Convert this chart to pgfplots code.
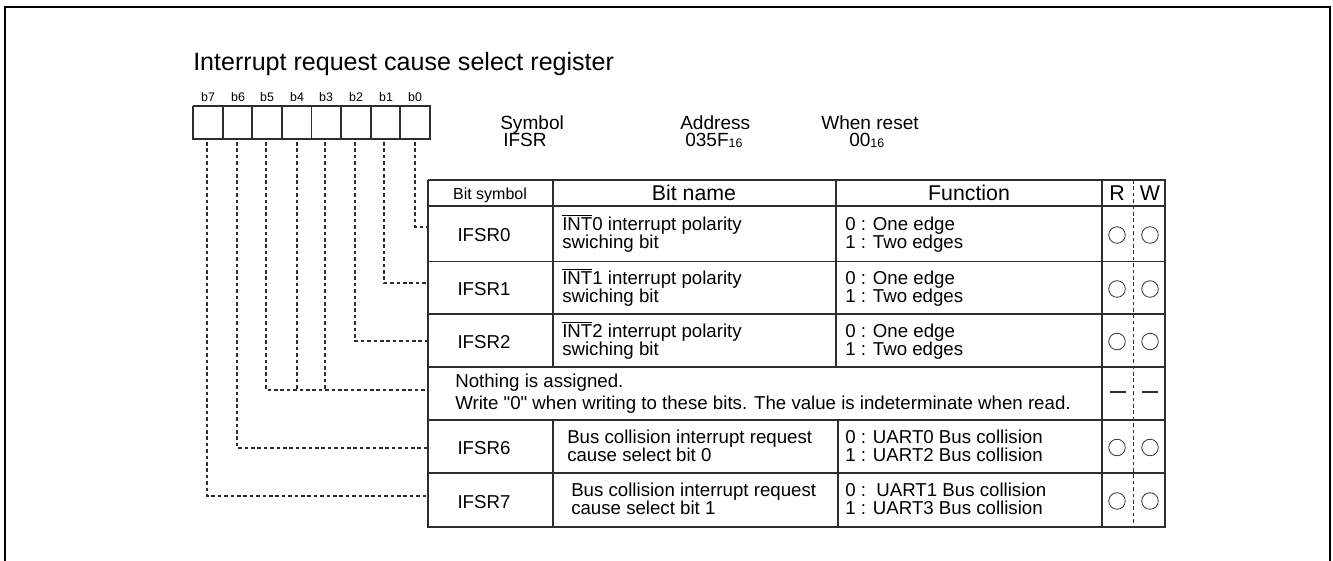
\documentclass[border=0pt]{standalone}
\usepackage{pgfplots}
\pgfplotsset{compat=1.18}
\usepackage{fontspec}
\setmainfont{Liberation Sans}
\newcommand\fbody{\fontsize{14pt}{16pt}\selectfont}
\newcommand\fhead{\fontsize{14.3pt}{17pt}\selectfont}
\newcommand\fhdr{\fontsize{16pt}{18pt}\selectfont}
\newcommand\fsym{\fontsize{12pt}{14pt}\selectfont}
\newcommand\fbit{\fontsize{9.3pt}{10pt}\selectfont}
\newcommand\ftitle{\fontsize{18.8pt}{21pt}\selectfont}
\newcommand\sub[1]{\raisebox{-0.6pt}{\fontsize{9.3pt}{9pt}\selectfont #1}}
\newcommand\ovl[1]{\leavevmode\vbox{\hrule height 0.6pt\kern 1.3pt\hbox{#1}}}
\newcommand\dq{\XeTeXglyph\XeTeXcharglyph"22\relax}
\definecolor{ln}{HTML}{2E2E2E}
\begin{document}
\begin{tikzpicture}
\begin{axis}[name=ax, width=999.75pt, height=420pt, scale only axis,
  xmin=0, xmax=1333, ymin=0, ymax=560, y dir=reverse, hide axis, clip=false]
% outer frame
\addplot[black, line width=2.2pt, line join=miter] coordinates {(5,565)(5,7)(1330,7)(1330,565)};
% bit boxes
\addplot[ln, line width=1.4pt] coordinates {(193,106)(430,106)(430,139)(193,139)(193,106)};
\addplot[ln, line width=1.4pt] coordinates {(222.6,106)(222.6,139)};
\addplot[ln, line width=1.4pt] coordinates {(252.3,106)(252.3,139)};
\addplot[ln, line width=1.4pt] coordinates {(281.9,106)(281.9,139)};
\addplot[ln, line width=1.4pt] coordinates {(311.5,106)(311.5,139)};
\addplot[ln, line width=1.4pt] coordinates {(341.1,106)(341.1,139)};
\addplot[ln, line width=1.4pt] coordinates {(370.8,106)(370.8,139)};
\addplot[ln, line width=1.4pt] coordinates {(400.4,106)(400.4,139)};
% dotted connectors
\pgfplotsset{conn/.style={ln, line width=0.9pt, dash pattern=on 2.7pt off 2.1pt}}
\addplot[conn] coordinates {(207,142)(207,496)(428,496)};
\addplot[conn] coordinates {(237,142)(237,448)(428,448)};
\addplot[conn] coordinates {(266,142)(266,390)(428,390)};
\addplot[conn] coordinates {(297,142)(297,390)};
\addplot[conn] coordinates {(325,142)(325,390)};
\addplot[conn] coordinates {(355,142)(355,341)(428,341)};
\addplot[conn] coordinates {(384,142)(384,283)(428,283)};
\addplot[conn] coordinates {(415,142)(415,227)(428,227)};
% table outline and rows
\pgfplotsset{tab/.style={ln, line width=1.4pt}}
\addplot[tab] coordinates {(428,180)(1165,180)(1165,527)(428,527)(428,180)};
\addplot[tab] coordinates {(428,206)(1165,206)};
\addplot[tab] coordinates {(428,261.5)(1165,261.5)};
\addplot[tab] coordinates {(428,314)(1165,314)};
\addplot[tab] coordinates {(428,367)(1165,367)};
\addplot[tab] coordinates {(428,420)(1165,420)};
\addplot[tab] coordinates {(428,473)(1165,473)};
% columns
\addplot[tab] coordinates {(553,180)(553,367)};
\addplot[tab] coordinates {(553,420)(553,527)};
\addplot[tab] coordinates {(836,180)(836,367)};
\addplot[tab] coordinates {(838,420)(838,527)};
\addplot[tab] coordinates {(1102,180)(1102,527)};
\addplot[ln, line width=0.7pt, dash pattern=on 2.7pt off 2.1pt] coordinates {(1133,180)(1133,527)};
% R/W circles
\addplot[only marks, mark=o, mark size=6.2pt, mark options={ln, line width=0.6pt}] coordinates {
(1117,235)(1150,235)(1117,289)(1150,289)(1117,341.5)(1150,341.5)
(1117,447.5)(1150,447.5)(1117,501)(1150,501)};
% dashes for unassigned bits
\addplot[ln, line width=0.8pt] coordinates {(1110,392)(1126,392)};
\addplot[ln, line width=0.8pt] coordinates {(1142,392)(1158,392)};
% ---- text ----
\node[anchor=base west, font=\ftitle, inner sep=0pt] at (axis cs:193,70) {Interrupt request cause select register};
\node[anchor=base, font=\fbit] at (axis cs:208,101.5) {b7};
\node[anchor=base, font=\fbit] at (axis cs:238,101.5) {b6};
\node[anchor=base, font=\fbit] at (axis cs:267,101.5) {b5};
\node[anchor=base, font=\fbit] at (axis cs:297,101.5) {b4};
\node[anchor=base, font=\fbit] at (axis cs:326,101.5) {b3};
\node[anchor=base, font=\fbit] at (axis cs:356,101.5) {b2};
\node[anchor=base, font=\fbit] at (axis cs:386,101.5) {b1};
\node[anchor=base, font=\fbit] at (axis cs:415,101.5) {b0};
\node[anchor=base west, font=\fhead, inner sep=0pt] at (axis cs:500,129) {Symbol};
\node[anchor=base west, font=\fhead, inner sep=0pt] at (axis cs:503,146.5) {IFSR};
\node[anchor=base west, font=\fhead, inner sep=0pt] at (axis cs:680,129) {Address};
\node[anchor=base west, font=\fhead, inner sep=0pt] at (axis cs:685,146.5) {035F\sub{16}};
\node[anchor=base west, font=\fhead, inner sep=0pt] at (axis cs:821,129) {When reset};
\node[anchor=base west, font=\fhead, inner sep=0pt] at (axis cs:849,146.5) {00\sub{16}};
% header
\node[anchor=base, font=\fsym] at (axis cs:490,199) {Bit symbol};
\node[anchor=base, font=\fhdr] at (axis cs:694,200.5) {Bit name};
\node[anchor=base, font=\fhdr] at (axis cs:969,200.5) {Function};
\node[anchor=base, font=\fhdr] at (axis cs:1117,200.5) {R};
\node[anchor=base, font=\fhdr] at (axis cs:1150,200.5) {W};
% row 0
\node[anchor=base, font=\fbody] at (axis cs:484,241.75) {IFSR0};
\node[anchor=base west, font=\fbody, inner sep=0pt] at (axis cs:562,230.25) {\ovl{INT}0 interrupt polarity};
\node[anchor=base west, font=\fbody, inner sep=0pt] at (axis cs:562,248.25) {swiching bit};
\node[anchor=base west, font=\fbody, inner sep=0pt] at (axis cs:845,230.25) {0 : One edge};
\node[anchor=base west, font=\fbody, inner sep=0pt] at (axis cs:845,248.25) {1 : Two edges};
% row 1
\node[anchor=base, font=\fbody] at (axis cs:484,295.75) {IFSR1};
\node[anchor=base west, font=\fbody, inner sep=0pt] at (axis cs:562,284.25) {\ovl{INT}1 interrupt polarity};
\node[anchor=base west, font=\fbody, inner sep=0pt] at (axis cs:562,302.25) {swiching bit};
\node[anchor=base west, font=\fbody, inner sep=0pt] at (axis cs:845,284.25) {0 : One edge};
\node[anchor=base west, font=\fbody, inner sep=0pt] at (axis cs:845,302.25) {1 : Two edges};
% row 2
\node[anchor=base, font=\fbody] at (axis cs:484,348.5) {IFSR2};
\node[anchor=base west, font=\fbody, inner sep=0pt] at (axis cs:562,337) {\ovl{INT}2 interrupt polarity};
\node[anchor=base west, font=\fbody, inner sep=0pt] at (axis cs:562,355) {swiching bit};
\node[anchor=base west, font=\fbody, inner sep=0pt] at (axis cs:845,337) {0 : One edge};
\node[anchor=base west, font=\fbody, inner sep=0pt] at (axis cs:845,355) {1 : Two edges};
% nothing assigned
\node[anchor=base west, font=\fbody, inner sep=0pt] at (axis cs:455,387.5) {Nothing is assigned.};
\node[anchor=base west, font=\fbody, inner sep=0pt] at (axis cs:455,409.5) {Write \dq0\dq{} when writing to these bits. The value is indeterminate when read.};
% row 6
\node[anchor=base, font=\fbody] at (axis cs:484,454.5) {IFSR6};
\node[anchor=base west, font=\fbody, inner sep=0pt] at (axis cs:567,443) {Bus collision interrupt request};
\node[anchor=base west, font=\fbody, inner sep=0pt] at (axis cs:567,461) {cause select bit 0};
\node[anchor=base west, font=\fbody, inner sep=0pt] at (axis cs:845,443) {0 : UART0 Bus collision};
\node[anchor=base west, font=\fbody, inner sep=0pt] at (axis cs:845,461) {1 : UART2 Bus collision};
% row 7
\node[anchor=base, font=\fbody] at (axis cs:484,508) {IFSR7};
\node[anchor=base west, font=\fbody, inner sep=0pt] at (axis cs:571,496.5) {Bus collision interrupt request};
\node[anchor=base west, font=\fbody, inner sep=0pt] at (axis cs:571,514.5) {cause select bit 1};
\node[anchor=base west, font=\fbody, inner sep=0pt] at (axis cs:845,496.5) {0 :\ \ UART1 Bus collision};
\node[anchor=base west, font=\fbody, inner sep=0pt] at (axis cs:845,514.5) {1 : UART3 Bus collision};
\end{axis}
\pgfresetboundingbox
\useasboundingbox (ax.south west) rectangle (ax.north east);
\end{tikzpicture}
\end{document}
